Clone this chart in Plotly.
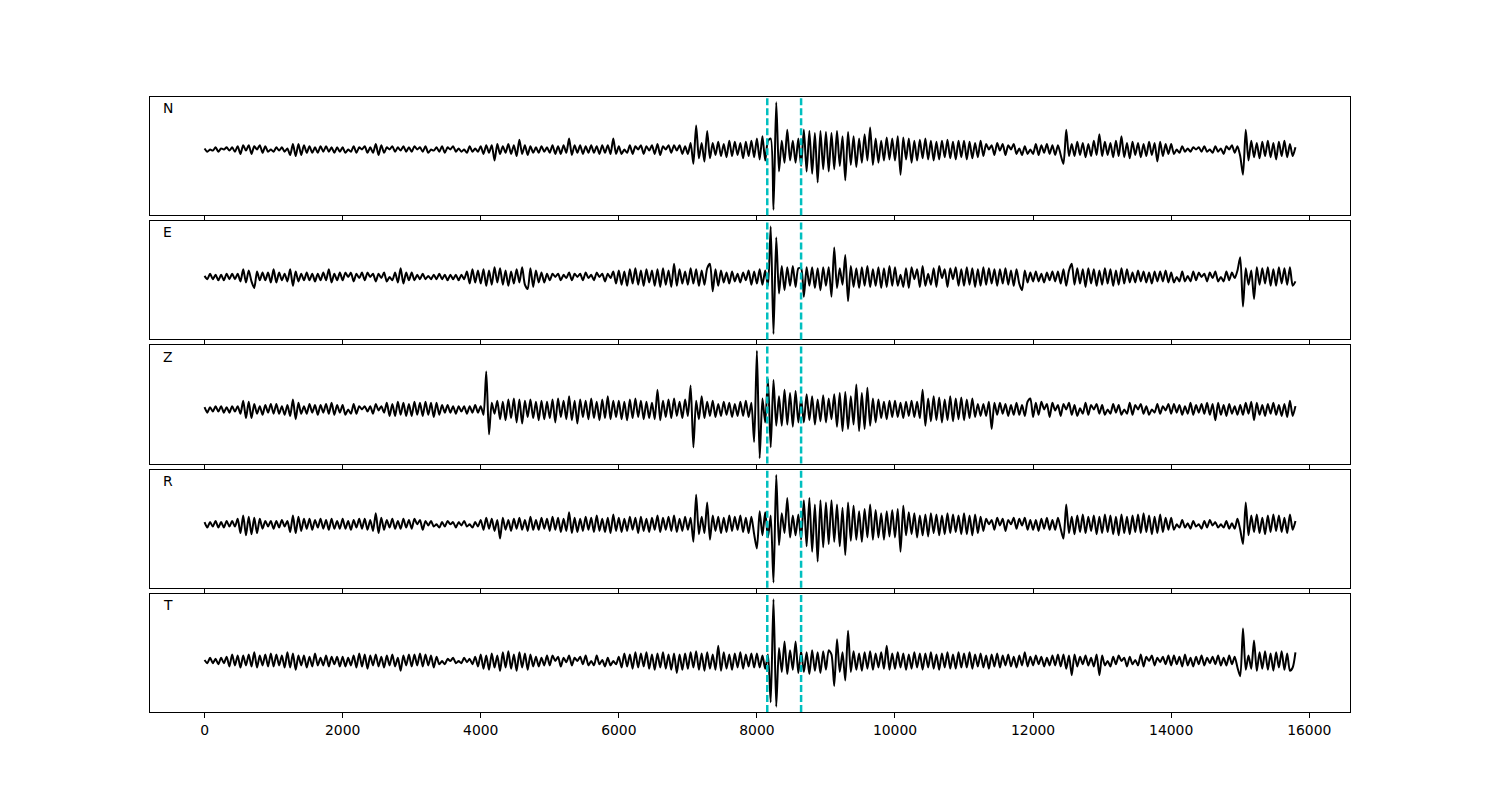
import numpy as np
import plotly.graph_objects as go

# ---------------- data (amplitudes, 40-unit sampling) ----------------
labels = ["N", "E", "Z", "R", "T"]
picks = [8150, 8640]
xtick_vals = [0, 2000, 4000, 6000, 8000, 10000, 12000, 14000, 16000]
xtick_text = ["0", "2000", "4000", "6000", "8000", "10000", "12000", "14000", "16000"]
row_span = 1000      # each row of values covers 1000 samples on the x axis
last_row_span = 800  # final row: 15000 .. 15800

N_rows = [
    [1,-2,0,-1,2,-2,1,0,2,-1,2,-2,3,-4,4,-1,4,-4,3,0,4,-3,3,-2,0],
    [-2,2,-1,2,-2,1,-5,5,-6,5,-5,4,-3,3,-3,2,-3,3,-2,3,-2,2,-3,2,-2],
    [2,-3,0,-2,3,-3,2,0,3,-3,2,-3,5,-5,4,-3,2,0,3,-2,2,-1,3,-2,2],
    [-2,3,0,2,-2,3,-3,0,-1,2,-2,3,-3,2,0,3,-2,1,-2,0,-3,3,-2,1,-2],
    [3,-4,4,-3,4,-10,5,-4,3,-3,5,-4,4,-6,9,-4,4,-5,3,-3,2,-3,3,-2,2],
    [-3,4,-4,3,-4,4,-3,10,-5,4,-3,4,-4,3,-3,4,-3,3,-4,4,-3,4,-4,10,-4],
    [3,-4,0,-3,4,-4,3,0,4,-4,3,-1,4,-4,5,-5,3,0,4,-3,4,-1,4,-4,3],
    [-4,6,-13,22,-8,6,-11,17,-8,6,-5,7,-6,5,-7,8,-6,7,-5,6,-8,7,-6,8,-7],
    [10,-9,12,-10,8,10,-55,43,-20,8,-12,18,-10,8,-12,10,-15,18,-20,17,-22,15,-30,17,-18],
    [16,-20,15,-18,17,-15,12,-28,16,-14,12,-16,10,-12,14,-10,20,-14,10,-12,8,-10,11,-9,10],
    [-10,12,-23,11,-9,10,-12,8,-10,9,-8,10,-9,8,-10,7,-9,8,-7,9,-8,7,-9,8,-7],
    [8,-9,7,-8,6,-7,8,-6,5,0,4,-5,6,-1,5,-5,4,0,5,-4,1,-5,3,-4,0],
    [-4,5,-5,4,-3,5,-4,4,-5,4,-5,-13,18,-6,5,-6,7,-5,6,-7,5,-6,8,-5,14],
    [-6,7,-5,6,-7,8,-6,12,-7,6,-8,7,-5,6,-7,5,-6,7,-5,6,-11,7,-6,5,-4],
    [5,-4,0,-3,3,-2,1,-2,2,0,2,-2,3,-2,0,-3,3,-2,1,-4,3,0,4,-3,3],
    [-6,-23,18,-10,8,-7,6,-8,7,-6,8,-7,6,-9,7,-6,8,-7,5,-6,2],
]

E_rows = [
    [1,-2,3,-2,2,-3,2,-3,3,-2,3,-2,3,-4,7,-5,6,-4,-10,5,-3,4,-3,4,-5],
    [7,-5,4,-3,3,-4,7,-8,5,-4,3,-3,4,-3,3,-4,3,-3,4,-3,7,-5,3,-3,4],
    [-3,4,0,4,-4,3,-1,4,-3,4,0,3,-4,3,-1,4,-4,0,-3,4,-5,8,-6,4,-3],
    [4,-3,2,-2,3,-2,1,-2,2,-2,3,-2,2,-3,2,-2,2,-3,2,-2,5,-6,7,-5,6],
    [-6,7,-8,6,-7,9,-5,8,-7,6,-8,5,-6,7,-5,9,-7,-11,8,-9,6,-5,4,-5,3],
    [-3,3,0,3,-3,2,-1,4,-3,3,0,3,-3,4,-1,2,-3,4,0,3,-4,3,-1,5,-6],
    [6,-7,5,-8,7,-6,8,-7,6,-8,7,-5,6,-8,7,-9,8,-7,6,-9,12,-8,7,-6,5],
    [-7,8,-6,7,-8,6,-7,8,12,-13,7,-8,6,-5,4,-6,5,-4,3,-5,4,-3,6,-7,5],
    [-6,7,-7,6,-8,46,-52,36,-15,10,-12,9,-8,10,-9,8,8,-18,9,-8,9,-10,8,-12,9],
    [-8,9,-18,27,-10,8,-7,20,-22,10,-9,8,-10,9,-8,10,-9,7,-8,9,-10,8,-9,10,-8],
    [9,-8,2,-9,8,-10,9,-2,7,-9,10,-8,3,-7,8,-9,10,-1,7,-9,8,-2,9,-8,7],
    [-8,9,-7,8,-9,7,-8,9,-7,8,-6,7,-8,7,-6,8,-7,6,-8,7,-6,-12,6,-5,4],
    [-4,5,-4,3,-5,4,-3,5,-4,5,-6,7,-8,6,12,-7,8,-6,7,-9,8,-6,7,-8,6],
    [-7,8,-6,7,-8,6,-7,8,-6,7,-5,4,-5,6,-4,5,-5,4,-6,5,-4,5,-4,6,-5],
    [4,-5,0,-4,5,-4,1,-4,5,-3,4,0,3,-4,4,-1,5,-4,0,-4,5,-3,4,-1,6],
    [18,-27,8,-7,6,-20,9,-7,8,-6,9,-8,7,-8,9,-6,8,-7,9,-8,-4],
]

Z_rows = [
    [2,-3,2,-2,3,-2,3,-3,2,-3,3,-2,3,-4,8,-8,7,-8,5,-4,3,-5,4,-3,5],
    [-4,5,-4,3,-5,4,-6,9,-9,6,-4,3,-4,5,-3,4,-5,4,-3,5,-4,6,-5,4,-3],
    [4,-5,0,-4,5,-4,3,0,3,-2,3,-4,5,-1,3,-3,6,-6,5,-6,7,-5,6,-6,5],
    [-6,7,-5,6,-6,7,-5,6,-7,6,-5,4,-3,4,-3,3,-4,3,-2,3,-4,3,-3,4,-3],
    [3,-5,35,-23,6,-4,8,-9,7,-10,9,-8,10,-12,9,-13,8,-7,9,-8,7,-10,8,-9,7],
    [-8,9,-12,10,-7,8,-9,12,-10,8,-13,9,-7,8,-9,10,-8,7,-10,9,-8,12,-9,8,-7],
    [8,-9,7,-10,9,-8,10,-7,8,-9,7,-8,6,-9,18,-10,8,-7,9,-8,10,-6,7,-8,9],
    [-6,22,-35,8,-9,12,-8,7,-6,8,-7,5,-6,7,-5,6,-7,5,-6,7,-6,8,-7,6,-30],
    [54,-45,10,-12,28,-35,27,-15,12,-15,18,-14,15,-16,17,-12,10,-12,14,-10,12,-14,9,-11,13],
    [-12,10,-9,14,-16,15,-20,16,-18,12,-14,23,-20,15,-18,20,-15,10,-12,9,-8,7,-9,8,-7],
    [8,-7,6,-8,7,-6,8,-7,7,-8,18,-15,10,-11,12,-10,11,-12,9,-10,12,-11,10,-9,11],
    [-10,9,-8,10,-7,5,-6,5,-6,7,-18,6,-5,6,-4,5,-6,4,-5,6,-5,4,-6,7,10],
    [-7,6,-5,7,0,5,-7,6,-1,4,-6,5,0,6,-5,4,-6,1,-4,6,-5,4,0,5,-4],
    [4,-5,0,-4,5,-3,4,-5,0,-4,6,-5,4,0,5,-4,3,-5,0,-3,5,-4,3,-1,5],
    [-4,5,-3,4,-5,3,-4,6,-5,4,-3,5,-4,6,-5,5,-10,6,-5,4,-6,5,-4,3,-5],
    [4,-5,6,-4,7,-10,6,-5,4,-6,5,-4,6,-5,4,-6,5,-7,8,-6,3],
]

R_rows = [
    [2,-3,2,-2,3,-3,2,-3,3,-2,3,-2,5,-8,8,-10,7,-9,6,-8,5,-4,3,-2,3],
    [-4,3,-3,4,-2,3,-7,8,-8,7,-6,5,-4,5,-5,4,-3,5,-4,4,-5,5,-4,3,-4],
    [5,-4,3,-5,4,-3,5,-4,5,-5,4,-6,10,-8,6,-5,4,-3,5,-4,3,-4,5,-3,4],
    [-4,5,0,4,-5,3,-1,3,-2,0,-3,2,-2,3,0,2,-3,2,-1,3,-2,0,-3,2,-2],
    [4,-5,6,-4,5,-6,4,-13,6,-5,4,-6,5,-4,6,-5,4,-6,7,-5,4,-5,6,-4,5],
    [-6,7,-5,6,-7,5,-6,11,-8,6,-7,5,-6,7,-5,6,-7,8,-6,5,-7,6,-8,9,-6],
    [6,-7,5,-6,7,-5,6,-8,7,-6,5,-7,6,-5,8,-7,6,-5,7,-6,8,-7,5,-6,7],
    [-5,6,-16,27,-9,7,-8,20,-14,8,-6,7,-8,6,-7,8,-6,7,-5,8,-7,6,-8,7,-9],
    [-22,12,-10,11,-12,8,-53,45,-19,10,-8,24,-12,8,-10,9,-14,22,-20,24,-25,18,-34,22,-21],
    [20,-18,22,-16,18,-20,15,-28,20,-15,17,-14,12,-16,14,-12,18,-14,13,-12,10,-14,12,-11,13],
    [-12,14,-25,17,-10,11,-9,10,-12,8,-10,9,-11,10,-8,9,-10,8,-9,10,-8,9,-7,8,-9],
    [10,-9,8,-10,9,-8,7,-6,5,0,4,-5,6,-1,5,-6,4,0,6,-4,5,-1,6,-5,4],
    [-5,4,-6,5,-4,6,-5,4,-5,6,-4,-13,18,-8,7,-9,8,-7,9,-8,7,-6,8,-9,7],
    [-8,9,-7,8,-9,7,-10,9,-8,7,-9,8,-7,9,-8,10,-7,8,-9,7,-8,9,-7,6,-5],
    [6,-5,0,-3,4,-3,1,-4,3,-2,0,-4,3,-3,4,-1,2,-3,0,-3,3,-4,1,-4,5],
    [-5,-18,20,-10,8,-7,9,-8,6,-9,8,-7,9,-6,8,-7,6,-8,9,-5,3],
]

T_rows = [
    [1,-2,3,-2,2,-3,3,-2,4,-5,6,-4,5,-6,5,-4,6,-5,8,-6,5,-4,6,-5,7],
    [-5,6,-4,5,-6,8,-6,7,-8,5,-4,5,-6,4,-5,7,-4,3,-4,5,-5,4,-3,4,-5],
    [4,-5,3,-4,5,-6,7,-5,6,-7,5,-4,6,-5,4,-6,5,-4,6,-5,3,-9,5,-4,6],
    [-5,6,-4,7,-5,6,-4,5,-6,4,-3,0,-3,2,0,3,-2,0,-2,3,-1,2,-3,4,-5],
    [6,-7,5,-8,7,-6,5,-9,8,-6,9,-7,6,-9,8,-6,7,-8,6,-5,4,-5,3,-4,5],
    [-4,5,0,4,-5,3,-1,5,-4,3,0,4,-3,5,-4,0,-4,5,-3,1,-5,3,-4,0,-3],
    [4,-6,7,-5,6,-7,8,-6,7,-5,8,-7,6,-8,7,-6,8,-7,6,-8,7,-11,6,-8,7],
    [-7,8,-6,9,-8,7,-9,8,-7,6,-8,14,-9,8,-7,6,-8,7,-6,8,-7,6,-5,7,-6],
    [7,-6,5,-7,6,-38,57,-42,12,-10,18,-12,10,-8,18,-11,9,-10,8,-12,10,-9,8,-11,9],
    [-8,10,6,-23,20,-10,8,-18,28,-10,9,-8,7,-9,8,-7,9,-8,7,-6,8,-7,14,-8,7],
    [-7,8,-6,7,-8,6,-7,8,-6,7,-8,7,-6,8,-7,6,-8,7,-6,8,-7,6,-7,8,-6],
    [7,-6,8,-7,6,-5,7,-6,5,-7,6,-5,7,-6,5,-4,6,-5,4,-6,5,-4,8,-5,4],
    [-4,5,-3,4,-5,3,-4,5,-4,6,-5,6,-7,5,-13,6,-5,4,-3,5,-4,3,-5,6,-13],
    [5,-4,0,-5,4,-3,5,0,3,-5,4,-3,1,-4,6,-5,4,0,5,-4,3,-1,4,-3,5],
    [-4,5,-3,4,-5,6,-4,3,-5,4,-3,5,-4,3,-2,4,-3,5,-4,3,-4,5,-3,4,-6],
    [-14,30,-8,5,-7,19,-9,8,-7,9,-8,7,-9,8,-6,9,-8,7,-9,-6,8],
]

traces_rows = [N_rows, E_rows, Z_rows, R_rows, T_rows]


def build(rows):
    xs, ys = [], []
    n_rows = len(rows)
    for r, vals in enumerate(rows):
        start = r * row_span
        span = (last_row_span if r == n_rows - 1 else row_span - row_span / 25)
        n = len(vals)
        for i, v in enumerate(vals):
            xs.append(start + (span * i / (n - 1) if n > 1 else 0))
            ys.append(v)
    return xs, ys


# ---------------- layout geometry ----------------
W, H = 1500, 800
page_off = 8  # browser body margin
m_t, m_b = 97 - page_off, 800 + page_off - 712
m_l, m_r = 150 - page_off, 1500 + page_off - 1350
plot_h = H - m_t - m_b
gap = 6
panel_h = (plot_h - 4 * gap) / 5

font_family = "DejaVu Sans"
fsize = 13.9
cyan = "#00BFBF"

fig = go.Figure()
annotations = []
shapes = []
all_x = []
for k, (lab, rows) in enumerate(zip(labels, traces_rows)):
    xs, ys = build(rows)
    all_x += xs
    suf = "" if k == 0 else str(k + 1)
    fig.add_trace(go.Scatter(
        x=xs, y=ys, mode="lines",
        line=dict(color="black", width=2, shape="spline", smoothing=0.7),
        xaxis="x" + suf, yaxis="y" + suf,
        showlegend=False, hoverinfo="skip",
    ))
    top_px = k * (panel_h + gap)
    bot_px = top_px + panel_h
    dom = [1 - bot_px / plot_h, 1 - top_px / plot_h]
    ymin, ymax = min(ys), max(ys)
    pad = 0.05 * (ymax - ymin)
    fig.layout["yaxis" + suf] = dict(
        domain=dom, anchor="x" + suf, range=[ymin - pad, ymax + pad],
        showticklabels=False, ticks="", showgrid=False, zeroline=False,
        showline=True, mirror=True, linecolor="black", linewidth=1,
    )
    fig.layout["xaxis" + suf] = dict(
        anchor="y" + suf, matches=None if k == 0 else "x",
        showticklabels=(k == 4), ticks="outside", ticklen=5, tickwidth=1,
        tickcolor="black", tickmode="array", tickvals=xtick_vals, ticktext=xtick_text,
        showgrid=False, zeroline=False,
        showline=True, mirror=True, linecolor="black", linewidth=1,
        tickfont=dict(family=font_family, size=fsize, color="black"),
    )
    for p in picks:
        shapes.append(dict(
            type="line", xref="x" + suf, yref="y" + suf + " domain",
            x0=p, x1=p, y0=0, y1=1,
            line=dict(color=cyan, width=2.5, dash="7px,3px"),
        ))
    annotations.append(dict(
        text=lab, xref="x" + suf + " domain", yref="y" + suf + " domain",
        x=0.0095, y=0.905, xanchor="left", yanchor="middle", showarrow=False,
        font=dict(family=font_family, size=fsize, color="black"),
    ))

xmin, xmax = min(all_x), max(all_x)
xpad = 0.05 * (xmax - xmin)
fig.layout["xaxis"]["range"] = [xmin - xpad, xmax + xpad]

fig.update_layout(
    width=W, height=H,
    margin=dict(l=m_l, r=m_r, t=m_t, b=m_b),
    paper_bgcolor="white", plot_bgcolor="white",
    shapes=shapes, annotations=annotations,
    font=dict(family=font_family, size=fsize, color="black"),
    showlegend=False,
)

fig.write_html("out.html")
